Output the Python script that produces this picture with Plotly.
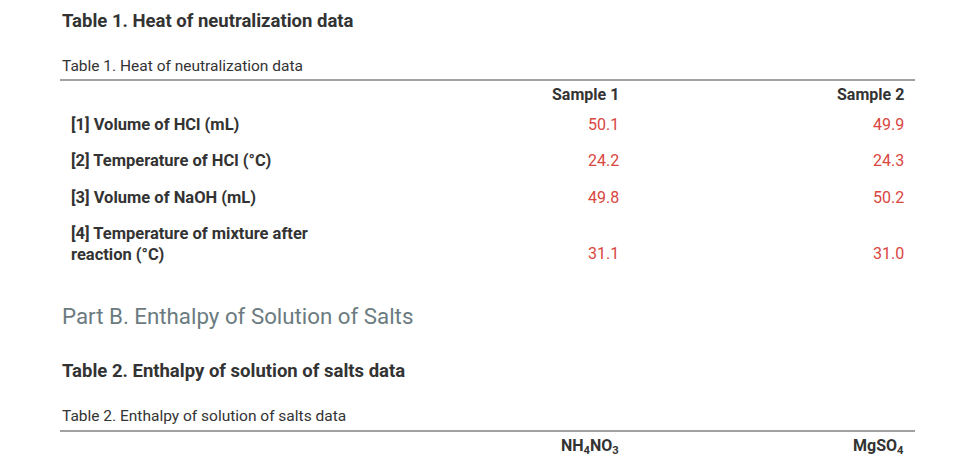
import plotly.graph_objects as go

W, H = 971, 465

table1_title = "Table 1. Heat of neutralization data"
table1_columns = ["Sample 1", "Sample 2"]
table1_rows = ["[1] Volume of HCl (mL)", "[2] Temperature of HCl (°C)",
               "[3] Volume of NaOH (mL)", "[4] Temperature of mixture after<br>reaction (°C)"]
sample1 = ["50.1", "24.2", "49.8", "31.1"]
sample2 = ["49.9", "24.3", "50.2", "31.0"]
section_title = "Part B. Enthalpy of Solution of Salts"
table2_title = "Table 2. Enthalpy of solution of salts data"
table2_columns = ["NH<sub>4</sub>NO<sub>3</sub>", "MgSO<sub>4</sub>"]

FONT = "Roboto"
DARK = "#333333"
RED = "#d9463e"
DX, DY = -9, -8  # page body margin offset

fig = go.Figure()
ann = []


def text(x, y, s, size=16, color=DARK, bold=False, xanchor="left", yanchor="middle"):
    ann.append(dict(x=x + DX, y=y + DY, text=f"<b>{s}</b>" if bold else s, showarrow=False,
                    xanchor=xanchor, yanchor=yanchor, align="left",
                    font=dict(family=FONT, size=size, color=color)))


text(61, 21, table1_title, size=18.5, bold=True)
text(61, 66, table1_title, size=15.5)
text(622, 94, table1_columns[0], size=16, bold=True, xanchor="right")
text(907, 94, table1_columns[1], size=16, bold=True, xanchor="right")

row_y = [124, 160, 197, 244]
value_y = [124, 160, 197, 253]
for label, ly, vy, a, b in zip(table1_rows, row_y, value_y, sample1, sample2):
    text(70, ly, label, size=16.5, bold=True)
    text(622, vy, a, color=RED, xanchor="right")
    text(907, vy, b, color=RED, xanchor="right")

text(61, 316, section_title, size=22.3, color="#6b7b80")
text(61, 371, table2_title, size=18.5, bold=True)
text(61, 416, table2_title, size=15.5)
text(622, 446, table2_columns[0], size=16, bold=True, xanchor="right")
text(907, 446, table2_columns[1], size=16, bold=True, xanchor="right")

shapes = [dict(type="line", x0=61 + DX, x1=916 + DX, y0=80 + DY, y1=80 + DY, line=dict(color="#444", width=1)),
          dict(type="line", x0=61 + DX, x1=916 + DX, y0=431 + DY, y1=431 + DY, line=dict(color="#444", width=1))]

fig.update_layout(width=W, height=H, margin=dict(l=0, r=0, t=0, b=0),
                  plot_bgcolor="white", paper_bgcolor="white",
                  xaxis=dict(range=[0, W], visible=False, fixedrange=True),
                  yaxis=dict(range=[H, 0], visible=False, fixedrange=True),
                  annotations=ann, shapes=shapes, showlegend=False)

fig.write_html("out.html")
